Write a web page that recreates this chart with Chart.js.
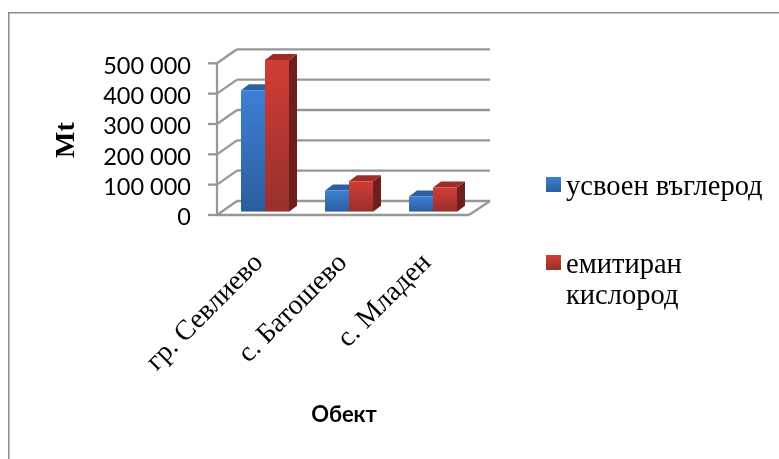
<!DOCTYPE html>
<html>
<head>
<meta charset="utf-8">
<title>Обект</title>
<script src="https://cdn.jsdelivr.net/npm/chart.js@4/dist/chart.umd.min.js"></script>
<style>
  html, body { margin: 0; padding: 0; background: #fff; overflow: hidden; }
  canvas { display: block; }
</style>
</head>
<body>
<canvas id="chart" width="779" height="459"></canvas>
<script>
// 데이터
const categories = ['гр. Севлиево', 'с. Батошево', 'с. Младен'];
const carbonValues = [400000, 70000, 50000];
const oxygenValues = [500000, 100000, 80000];
const seriesNames = ['усвоен въглерод', 'емитиран кислород'];

// 색상: 앞면 그라디언트, 옆면, 윗면
const barColors = [
  { light: '#3d80d6', dark: '#2b5d9c', side: '#234d82', top: '#2d609f' },
  { light: '#d03d36', dark: '#98302b', side: '#6e1f1c', top: '#a02b27' }
];
const wallColor = '#979797';
const serifFont = '"Liberation Serif", serif';
const sansFont = 'Lato, "Open Sans", sans-serif';

// 3D 오프셋 (px)
const barDepth = { x: 8, y: 6 };
const wall = { frontX: 217, backX: 237, rightX: 490, floorRight: 469, tick: 9, frontDy: 3.3, backDy: -10.7 };

function faceGradient(chart, top, bottom, colors) {
  const g = chart.ctx.createLinearGradient(0, top, 0, bottom);
  g.addColorStop(0, colors.light);
  g.addColorStop(1, colors.dark);
  return g;
}

function barFill(index) {
  return ctx => {
    const y = ctx.chart.scales.y;
    if (!y || ctx.raw === undefined) return barColors[index].light;
    const top = y.getPixelForValue(ctx.raw);
    const bottom = y.getPixelForValue(0);
    // 레이아웃 전에는 픽셀 값이 아직 없음
    if (!Number.isFinite(top) || !Number.isFinite(bottom)) return barColors[index].light;
    return faceGradient(ctx.chart, top, bottom, barColors[index]);
  };
}

function line(ctx, x1, y1, x2, y2) {
  ctx.beginPath();
  ctx.moveTo(x1, y1);
  ctx.lineTo(x2, y2);
  ctx.stroke();
}

// 바깥 테두리
const framePlugin = {
  id: 'frame',
  beforeDraw(chart) {
    const ctx = chart.ctx;
    ctx.save();
    ctx.strokeStyle = '#8c8c8c';
    ctx.lineWidth = 1.5;
    ctx.beginPath();
    ctx.moveTo(8.75, chart.height);
    ctx.lineTo(8.75, 12.75);
    ctx.lineTo(chart.width, 12.75);
    ctx.stroke();
    ctx.restore();
  }
};

// 벽, 바닥, 막대 옆면과 윗면
const depthPlugin = {
  id: 'depth',
  beforeDatasetsDraw(chart) {
    const ctx = chart.ctx;
    const y = chart.scales.y;
    ctx.save();
    ctx.strokeStyle = wallColor;
    ctx.lineWidth = 2.3;
    y.ticks.forEach(t => {
      const p = y.getPixelForValue(t.value);
      const front = p + wall.frontDy;
      const back = p + wall.backDy;
      line(ctx, wall.frontX - wall.tick, front, wall.frontX, front);
      line(ctx, wall.frontX, front, wall.backX, back);
      line(ctx, wall.backX, back, wall.rightX, back);
    });
    const zero = y.getPixelForValue(0);
    const max = y.getPixelForValue(y.max);
    line(ctx, wall.frontX, max + wall.frontDy, wall.frontX, zero + wall.frontDy);
    line(ctx, wall.frontX, zero + wall.frontDy, wall.floorRight, zero + wall.frontDy);
    line(ctx, wall.floorRight, zero + wall.frontDy, wall.rightX, zero + wall.backDy);

    chart.data.datasets.forEach((ds, i) => {
      chart.getDatasetMeta(i).data.forEach(bar => {
        const left = bar.x - bar.width / 2;
        const right = bar.x + bar.width / 2;
        ctx.fillStyle = barColors[i].side;
        ctx.beginPath();
        ctx.moveTo(right, bar.y);
        ctx.lineTo(right + barDepth.x, bar.y - barDepth.y);
        ctx.lineTo(right + barDepth.x, bar.base - barDepth.y);
        ctx.lineTo(right, bar.base);
        ctx.closePath();
        ctx.fill();
        ctx.fillStyle = barColors[i].top;
        ctx.beginPath();
        ctx.moveTo(left, bar.y);
        ctx.lineTo(left + barDepth.x, bar.y - barDepth.y);
        ctx.lineTo(right + barDepth.x, bar.y - barDepth.y);
        ctx.lineTo(right, bar.y);
        ctx.closePath();
        ctx.fill();
      });
    });
    ctx.restore();
  }
};

// 축 제목과 범례
const annotationPlugin = {
  id: 'annotations',
  afterDraw(chart) {
    const ctx = chart.ctx;
    const scales = chart.options.scales;
    ctx.save();
    ctx.fillStyle = '#000';
    ctx.textAlign = 'center';
    ctx.textBaseline = 'middle';

    ctx.font = 'bold 22px ' + sansFont;
    ctx.fillText(scales.x.title.text, 344, 415);

    ctx.save();
    ctx.translate(67, 140);
    ctx.rotate(-Math.PI / 2);
    ctx.font = 'bold 28px ' + serifFont;
    ctx.fillText(scales.y.title.text, 0, 0);
    ctx.restore();

    ctx.textAlign = 'left';
    ctx.textBaseline = 'alphabetic';
    ctx.font = '28.5px ' + serifFont;
    const boxes = [{ top: 177, baseline: 195 }, { top: 255, baseline: 273 }];
    seriesNames.forEach((name, i) => {
      ctx.fillStyle = faceGradient(chart, boxes[i].top, boxes[i].top + 15, barColors[i]);
      ctx.fillRect(546, boxes[i].top, 15, 15);
      ctx.fillStyle = '#000';
      // 두 번째 항목은 줄바꿈
      const rows = ctx.measureText(name).width > 205 ? name.split(' ') : [name];
      rows.forEach((row, r) => ctx.fillText(row, 566, boxes[i].baseline + r * 31));
    });
    ctx.restore();
  }
};

new Chart(document.getElementById('chart'), {
  type: 'bar',
  data: {
    labels: categories,
    datasets: [
      { label: seriesNames[0], data: carbonValues, backgroundColor: barFill(0) },
      { label: seriesNames[1], data: oxygenValues, backgroundColor: barFill(1) }
    ]
  },
  options: {
    responsive: false,
    animation: false,
    layout: { padding: { top: 60, right: 304, left: 0, bottom: 0 } },
    plugins: {
      legend: { display: false },
      tooltip: { enabled: false }
    },
    datasets: { bar: { categoryPercentage: 48 / 84, barPercentage: 1 } },
    scales: {
      x: {
        grid: { display: false },
        border: { display: false },
        title: { display: false, text: 'Обект' },
        ticks: {
          autoSkip: false,
          minRotation: 45,
          maxRotation: 45,
          padding: 27,
          labelOffset: -6,
          color: '#000',
          font: { family: serifFont, size: 28 }
        },
        afterFit: s => { s.height = 247.3; }
      },
      y: {
        min: 0,
        max: 500000,
        grid: { display: false },
        border: { display: false },
        title: { display: false, text: 'Mt' },
        ticks: {
          autoSkip: false,
          stepSize: 100000,
          padding: 24,
          labelOffset: 6,
          color: '#000',
          font: { family: sansFont, size: 23.5 },
          callback: v => String(v).replace(/\B(?=(\d{3})+$)/g, ' ')
        },
        afterFit: s => { s.width = 223; }
      }
    }
  },
  plugins: [framePlugin, depthPlugin, annotationPlugin]
});
</script>
</body>
</html>
